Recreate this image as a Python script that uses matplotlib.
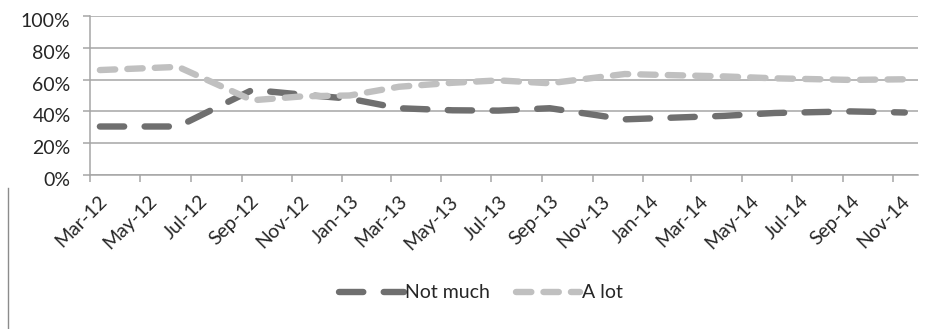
import datetime as dt
import matplotlib
matplotlib.use("Agg")
import matplotlib.pyplot as plt
import matplotlib.dates as mdates
import matplotlib.transforms as mtransforms
from matplotlib.lines import Line2D
from matplotlib.ticker import FuncFormatter, MultipleLocator

plt.rcParams['font.family'] = ['Lato', 'DejaVu Sans']

# ---- data ----
dates = ["2012-03-13", "2012-06-16", "2012-09-14", "2012-11-15", "2013-01-10",
         "2013-03-11", "2013-05-15", "2013-07-10", "2013-09-10", "2013-12-10",
         "2014-04-10", "2014-06-10", "2014-09-10", "2014-11-15"]
not_much = [30.5, 30.5, 53.5, 50.5, 48.0, 42.0, 40.7, 40.5, 42.0, 35.0, 37.2, 39.0, 40.0, 39.3]
a_lot = [66.0, 68.0, 47.0, 49.5, 50.0, 55.5, 58.0, 59.5, 57.7, 63.5, 62.0, 60.8, 59.8, 60.2]
series_names = ["Not much", "A lot"]
x_start, x_end = "2012-03-01", "2014-12-01"

xd = [dt.datetime.strptime(d, "%Y-%m-%d") for d in dates]

W, H = 938, 329
fig = plt.figure(figsize=(W / 100, H / 100), dpi=100)
ax = fig.add_axes([90 / W, 1 - 175 / H, 828 / W, 159 / H])

text_col = "#262626"
grid_col = "#a6a6a6"
dark = "#6f6f6f"
light = "#c0c0c0"
lw = 4.6
fs = 14

ax.plot(xd, not_much, color=dark, lw=lw, dashes=(3.8, 3.2), dash_capstyle='round',
        solid_capstyle='round', label=series_names[0], zorder=3)
ax.plot(xd, a_lot, color=light, lw=lw, dashes=(2.4, 1.9), dash_capstyle='round',
        solid_capstyle='round', label=series_names[1], zorder=3)

ax.set_xlim(dt.datetime.strptime(x_start, "%Y-%m-%d"), dt.datetime.strptime(x_end, "%Y-%m-%d"))
ax.set_ylim(0, 100)

ax.yaxis.set_major_locator(MultipleLocator(20))
ax.yaxis.set_major_formatter(FuncFormatter(lambda v, p: f"{int(round(v))}%"))
ax.xaxis.set_major_locator(mdates.MonthLocator(bymonth=[1, 3, 5, 7, 9, 11]))
ax.xaxis.set_major_formatter(mdates.DateFormatter('%b-%y'))

ax.grid(axis='y', color=grid_col, lw=1.1, zorder=0)
ax.set_axisbelow(True)
for s in ['top', 'right']:
    ax.spines[s].set_visible(False)
for s in ['left', 'bottom']:
    ax.spines[s].set_color(grid_col)
    ax.spines[s].set_linewidth(1.1)

ax.tick_params(axis='y', length=5, width=1.1, color=grid_col, pad=9, labelsize=fs, labelcolor=text_col)
ax.tick_params(axis='x', length=5, width=1.1, color=grid_col, pad=12, labelsize=fs, labelcolor=text_col)

xoff = mtransforms.ScaledTranslation(14 / 100, 0, fig.dpi_scale_trans)
for lab in ax.get_xticklabels():
    lab.set_rotation(45)
    lab.set_ha('right')
    lab.set_va('center')
    lab.set_rotation_mode('anchor')
    lab.set_transform(lab.get_transform() + xoff)

yoff = mtransforms.ScaledTranslation(0, -4 / 100, fig.dpi_scale_trans)
for lab in ax.get_yticklabels():
    lab.set_transform(lab.get_transform() + yoff)

leg = fig.legend(loc='center', bbox_to_anchor=(481 / W, 1 - 293 / H), ncol=2, frameon=False,
                 fontsize=fs, handlelength=3.3, handletextpad=0.1, columnspacing=1.3)
for t in leg.get_texts():
    t.set_color(text_col)

fig.add_artist(Line2D([8 / W, 8 / W], [0, 1 - 188 / H], transform=fig.transFigure,
                      color="#8c8c8c", lw=1.0))

fig.savefig("out.png", dpi=100)
